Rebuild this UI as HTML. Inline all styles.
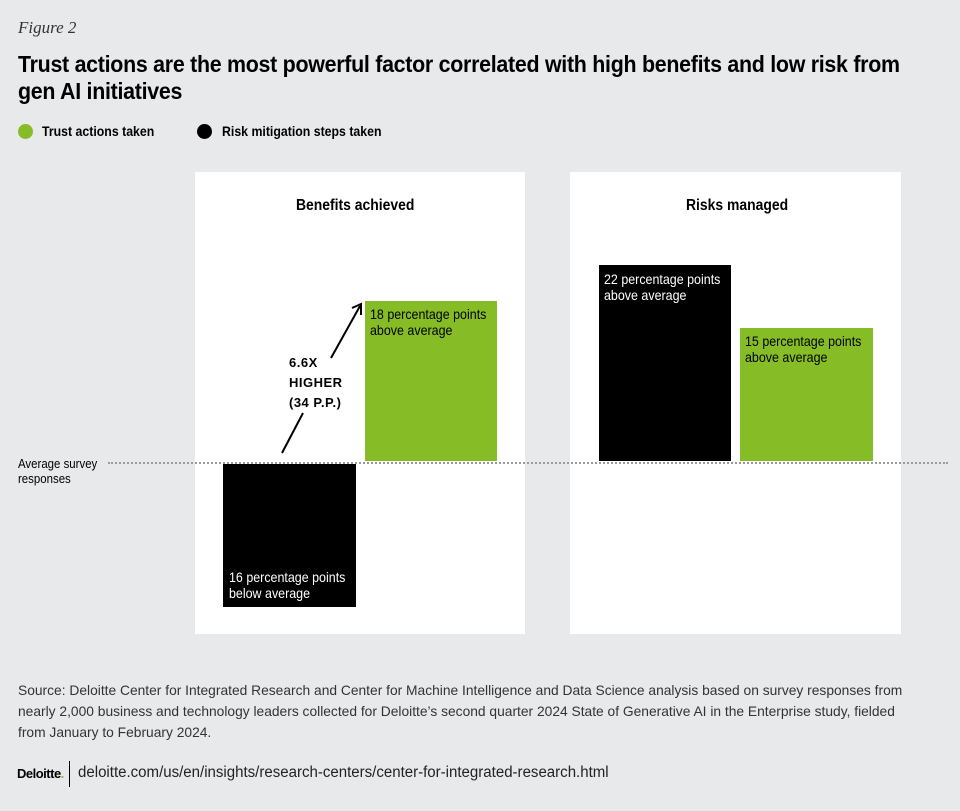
<!DOCTYPE html>
<html><head><meta charset="utf-8"><style>
*{margin:0;padding:0;box-sizing:border-box}
body{width:960px;height:811px;background:#e8e9eb;font-family:"Liberation Sans",sans-serif;position:relative;overflow:hidden;color:#000}
.a{position:absolute}
.sx{transform-origin:0 0;white-space:nowrap}
.fig{left:18px;top:18px;font-family:"Liberation Serif",serif;font-style:italic;font-size:17px;color:#333}
.t{left:18px;top:51px;font-size:23px;font-weight:bold;line-height:27px;letter-spacing:-0.3px;transform:scaleX(0.93);transform-origin:0 0}
.leg{top:123px;font-size:14px;font-weight:bold;transform:scaleX(0.88)}
.dot{width:15px;height:15px;border-radius:50%;top:124px}
.panel{background:#fff;top:172px;height:462px}
.ph{font-size:16px;font-weight:bold;top:197px;transform:scaleX(0.87)}
.bl{font-size:14px;line-height:16px;transform:scaleX(0.89)}
.src{left:18px;top:680px;font-size:13.8px;line-height:21px;color:#333;width:902px}
</style></head><body>
<div class="a fig">Figure 2</div>
<div class="a t sx">Trust actions are the most powerful factor correlated with high benefits and low risk from<br>gen AI initiatives</div>
<div class="a dot" style="left:18px;background:#86bc25"></div>
<div class="a leg sx" style="left:42px">Trust actions taken</div>
<div class="a dot" style="left:197px;background:#000"></div>
<div class="a leg sx" style="left:222px">Risk mitigation steps taken</div>

<div class="a panel" style="left:195px;width:330px"></div>
<div class="a panel" style="left:570px;width:331px"></div>
<div class="a ph sx" style="left:296px">Benefits achieved</div>
<div class="a ph sx" style="left:686px">Risks managed</div>

<div class="a sx" style="left:18px;top:456px;font-size:13px;line-height:15px;transform:scaleX(0.88)">Average survey<br>responses</div>
<div class="a" style="left:108px;top:462px;width:840px;border-top:2px dotted #9a9a9a"></div>

<div class="a" style="left:223px;top:464px;width:133px;height:143px;background:#000"></div>
<div class="a bl sx" style="left:229px;top:569px;color:#fff">16 percentage points<br>below average</div>
<div class="a" style="left:365px;top:301px;width:132px;height:160px;background:#86bc25"></div>
<div class="a bl sx" style="left:370px;top:306px">18 percentage points<br>above average</div>
<div class="a" style="left:599px;top:265px;width:132px;height:196px;background:#000"></div>
<div class="a bl sx" style="left:604px;top:271px;color:#fff">22 percentage points<br>above average</div>
<div class="a" style="left:740px;top:328px;width:133px;height:133px;background:#86bc25"></div>
<div class="a bl sx" style="left:745px;top:333px">15 percentage points<br>above average</div>

<svg class="a" style="left:0;top:0" width="960" height="811">
<path d="M282 453 L303 413 M331 358 L360 306 M352 308 L361 304 L361 315" stroke="#000" stroke-width="2" fill="none"/>
<g font-family="Liberation Sans,sans-serif" font-size="13" font-weight="bold" letter-spacing="0.5">
<text x="289" y="367">6.6X</text>
<text x="289" y="387">HIGHER</text>
<text x="289" y="407">(34 P.P.)</text>
</g>
</svg>

<div class="a src">Source: Deloitte Center for Integrated Research and Center for Machine Intelligence and Data Science analysis based on survey responses from nearly 2,000 business and technology leaders collected for Deloitte’s second quarter 2024 State of Generative AI in the Enterprise study, fielded from January to February 2024.</div>
<div class="a" style="left:17px;top:766px;font-weight:bold;font-size:13px;letter-spacing:-0.5px">Deloitte<span style="color:#86bc25">.</span></div>
<div class="a" style="left:69px;top:761px;width:1px;height:26px;background:#000"></div>
<div class="a sx" style="left:78px;top:764px;font-size:15.5px;color:#222;transform:scaleX(0.97)">deloitte.com/us/en/insights/research-centers/center-for-integrated-research.html</div>
</body></html>
